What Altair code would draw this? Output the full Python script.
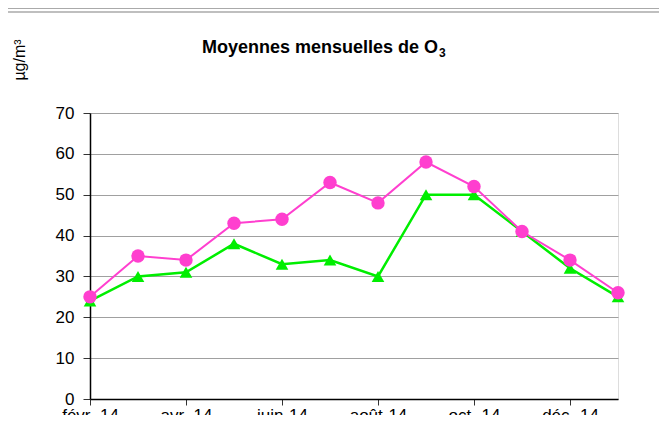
import altair as alt
import pandas as pd

months = ["févr.-14", "mars-14", "avr.-14", "mai-14", "juin-14", "juil.-14",
          "août-14", "sept.-14", "oct.-14", "nov.-14", "déc.-14", "janv.-15"]
serie_a = [25, 35, 34, 43, 44, 53, 48, 58, 52, 41, 34, 26]   # magenta, circles
serie_b = [24, 30, 31, 38, 33, 34, 30, 50, 50, 41, 32, 25]   # green, triangles
shown_labels = months[0::2]
y_ticks = [0, 10, 20, 30, 40, 50, 60, 70]

df_a = pd.DataFrame({"mois": months, "val": serie_a})
df_b = pd.DataFrame({"mois": months, "val": serie_b})

FONT = "Liberation Sans"

x_enc = alt.X("mois:N", sort=months,
              scale=alt.Scale(type="point", padding=0),
              axis=alt.Axis(values=shown_labels, labelAngle=0, title=None,
                            domainColor="black", domainWidth=1.5,
                            tickColor="#333", tickSize=6, labelFont=FONT,
                            labelFontSize=17, labelColor="black",
                            labelPadding=2, grid=False))
y_enc = alt.Y("val:Q", scale=alt.Scale(domain=[0, 70], nice=False),
              axis=alt.Axis(values=y_ticks, title=None, domainColor="black",
                            domainWidth=1.5, tickColor="#333", tickSize=7,
                            labelFont=FONT, labelFontSize=17, labelColor="black",
                            labelPadding=9, gridColor="#a0a0a0", gridWidth=1))

pink = "#FF3FCF"
green = "#00EE00"

line_b = alt.Chart(df_b).mark_line(color=green, strokeWidth=2.5).encode(x=x_enc, y=y_enc)
pts_b = alt.Chart(df_b).mark_point(shape="triangle-up", filled=True, color=green,
                                   size=160, opacity=1).encode(x=x_enc, y=y_enc)
line_a = alt.Chart(df_a).mark_line(color=pink, strokeWidth=2).encode(x=x_enc, y=y_enc)
pts_a = alt.Chart(df_a).mark_point(shape="circle", filled=True, color=pink,
                                   size=180, opacity=1).encode(x=x_enc, y=y_enc)

title = alt.Chart(pd.DataFrame({"t": ["Moyennes mensuelles de O"]})).mark_text(
    font=FONT, fontSize=18, fontWeight="bold", color="black", align="right",
    baseline="alphabetic"
).encode(text="t:N", x=alt.value(348), y=alt.value(-60))
title_sub = alt.Chart(pd.DataFrame({"t": ["3"]})).mark_text(
    font=FONT, fontSize=12, fontWeight="bold", color="black", align="left",
    baseline="alphabetic"
).encode(text="t:N", x=alt.value(349), y=alt.value(-56))

ylab = alt.Chart(pd.DataFrame({"t": ["µg/m³"]})).mark_text(
    font=FONT, fontSize=16, color="black", angle=270, align="center", baseline="middle"
).encode(text="t:N", x=alt.value(-70), y=alt.value(-53))

rule1 = alt.Chart(pd.DataFrame({"a": [0]})).mark_rule(color="#aaaaaa", strokeWidth=1).encode(
    x=alt.value(-90), x2=alt.value(580), y=alt.value(-104.5))
rule2 = alt.Chart(pd.DataFrame({"a": [0]})).mark_rule(color="#aaaaaa", strokeWidth=1.5).encode(
    x=alt.value(-90), x2=alt.value(580), y=alt.value(-101))

chart = alt.layer(line_b, line_a, pts_b, pts_a, title, title_sub, ylab, rule1, rule2).properties(
    width=528, height=286,
    autosize=alt.AutoSizeParams(type="none"),
    padding={"left": 82, "top": 105, "right": 41, "bottom": 16},
).configure_view(stroke="#888888", strokeWidth=2).configure(background="white")

chart.save("out.html", embed_options={"renderer": "svg", "actions": False})
